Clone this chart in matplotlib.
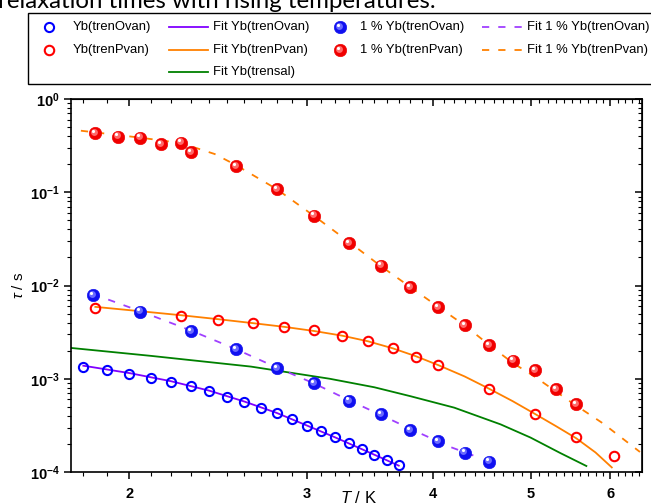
import matplotlib.pyplot as plt
import numpy as np
from matplotlib.ticker import FixedLocator, FuncFormatter, LogLocator, NullFormatter
from matplotlib.transforms import offset_copy
from matplotlib.patches import Rectangle

plt.rcParams['font.family'] = 'Liberation Sans'
plt.rcParams['mathtext.fontset'] = 'custom'
plt.rcParams['mathtext.rm'] = 'Liberation Sans'
plt.rcParams['mathtext.it'] = 'Liberation Sans:italic'
plt.rcParams['mathtext.bf'] = 'Liberation Sans:bold'

# Yb(trenOvan) - open blue circles
T_ovan = [1.8, 1.9, 2.0, 2.1, 2.2, 2.3, 2.4, 2.5, 2.6, 2.7, 2.8, 2.9, 3.0, 3.1, 3.2, 3.3, 3.4, 3.5, 3.6, 3.7]
tau_ovan = [1.35e-3, 1.24e-3, 1.13e-3, 1.03e-3, 9.3e-4, 8.3e-4, 7.4e-4, 6.4e-4, 5.6e-4, 4.86e-4,
            4.26e-4, 3.67e-4, 3.11e-4, 2.73e-4, 2.35e-4, 2.03e-4, 1.75e-4, 1.53e-4, 1.34e-4, 1.19e-4]
# Yb(trenPvan) - open red circles
T_pvan = [1.85, 2.05, 2.25, 2.45, 2.65, 2.85, 3.05, 3.25, 3.45, 3.65, 3.85, 4.05, 4.55, 5.05, 5.55, 6.05]
tau_pvan = [5.78e-3, 5.24e-3, 4.71e-3, 4.27e-3, 3.99e-3, 3.61e-3, 3.33e-3, 2.87e-3, 2.54e-3, 2.12e-3,
            1.72e-3, 1.40e-3, 7.76e-4, 4.16e-4, 2.36e-4, 1.49e-4]
# 1 % Yb(trenOvan) - blue balls
T_1ovan = [1.84, 2.05, 2.3, 2.55, 2.8, 3.05, 3.3, 3.55, 3.8, 4.05, 4.3, 4.55]
tau_1ovan = [7.9e-3, 5.24e-3, 3.25e-3, 2.07e-3, 1.30e-3, 8.9e-4, 5.8e-4, 4.15e-4, 2.82e-4, 2.15e-4, 1.61e-4, 1.29e-4]
# 1 % Yb(trenPvan) - red balls
T_1pvan = [1.85, 1.95, 2.05, 2.15, 2.25, 2.3, 2.55, 2.8, 3.05, 3.3, 3.55, 3.8, 4.05, 4.3, 4.55, 4.8, 5.05, 5.3, 5.55]
tau_1pvan = [0.429, 0.394, 0.385, 0.329, 0.340, 0.268, 0.191, 0.1076, 0.056, 0.0283, 0.0163, 9.57e-3,
             5.88e-3, 3.77e-3, 2.30e-3, 1.56e-3, 1.24e-3, 7.7e-4, 5.36e-4]

# fit curves
fit_ovan_T = [1.8, 2.0, 2.2, 2.4, 2.6, 2.8, 3.0, 3.2, 3.4, 3.55, 3.7]
fit_ovan_tau = [1.38e-3, 1.15e-3, 9.4e-4, 7.45e-4, 5.7e-4, 4.3e-4, 3.15e-4, 2.35e-4, 1.76e-4, 1.43e-4, 1.17e-4]
fit_pvan_T = [1.85, 2.05, 2.25, 2.45, 2.65, 2.85, 3.05, 3.25, 3.45, 3.65, 3.85, 4.05, 4.3, 4.55,
              4.8, 5.05, 5.3, 5.55, 5.8, 6.02]
fit_pvan_tau = [5.9e-3, 5.3e-3, 4.8e-3, 4.35e-3, 3.95e-3, 3.6e-3, 3.25e-3, 2.9e-3, 2.52e-3, 2.12e-3,
                1.74e-3, 1.40e-3, 1.06e-3, 7.8e-4, 5.75e-4, 4.2e-4, 3.1e-4, 2.3e-4, 1.62e-4, 1.12e-4]
fit_sal_T = [1.75, 2.1, 2.64, 3.16, 3.5, 3.8, 4.2, 4.67, 5.0, 5.35, 5.68]
fit_sal_tau = [2.14e-3, 1.76e-3, 1.35e-3, 1.0e-3, 8.1e-4, 6.5e-4, 4.9e-4, 3.24e-4, 2.34e-4, 1.6e-4, 1.16e-4]
fit_1ovan_T = [1.84, 2.05, 2.3, 2.55, 2.8, 3.05, 3.3, 3.55, 3.8, 4.16, 4.42]
fit_1ovan_tau = [8.1e-3, 5.3e-3, 3.3e-3, 2.08e-3, 1.32e-3, 8.9e-4, 5.9e-4, 4.1e-4, 2.9e-4, 1.86e-4, 1.46e-4]
fit_1pvan_T = [1.79, 2.05, 2.25, 2.43, 2.55, 2.8, 3.05, 3.3, 3.55, 3.8, 4.05, 4.3, 4.55, 4.8, 5.05,
               5.5, 5.9, 6.42]
fit_1pvan_tau = [0.457, 0.385, 0.337, 0.257, 0.196, 0.108, 0.0556, 0.0295, 0.0162, 9.6e-3, 5.9e-3,
                 3.75e-3, 2.3e-3, 1.48e-3, 1.05e-3, 5.5e-4, 3.32e-4, 1.64e-4]

x_major = [2, 3, 4, 5, 6]

BLUE = '#0000ff'
RED = '#ff0000'
PURPLE = '#8000ff'
PURPLE2 = '#a040ff'
ORANGE = '#ff8000'
GREEN = '#008000'

fig = plt.figure(figsize=(6.51, 5.03), dpi=100)
ax = fig.add_axes([71/651, 1-472/503, (642-71)/651, (472-99)/503])
ax.set_xscale('log')
ax.set_yscale('log')


def balls(a, x, y, color, light, tr, ms=9.0, z=5):
    a.plot(x, y, 'o', ms=ms, mfc=color, mec=color, mew=0.4, ls='none', transform=tr, zorder=z, clip_on=False)
    t1 = offset_copy(tr, fig=fig, x=-0.8, y=0.9, units='points')
    a.plot(x, y, 'o', ms=ms*0.55, mfc=light, mec='none', ls='none', transform=t1, zorder=z+0.1, clip_on=False)
    t2 = offset_copy(tr, fig=fig, x=-1.4, y=1.7, units='points')
    a.plot(x, y, 'o', ms=ms*0.25, mfc='white', mec='none', ls='none', transform=t2, zorder=z+0.2, clip_on=False)


# fit lines
ax.plot(fit_ovan_T, fit_ovan_tau, color=PURPLE, lw=1.3, zorder=2)
ax.plot(fit_pvan_T, fit_pvan_tau, color=ORANGE, lw=1.3, zorder=2)
ax.plot(fit_sal_T, fit_sal_tau, color=GREEN, lw=1.3, zorder=2)
ax.plot(fit_1ovan_T, fit_1ovan_tau, color=PURPLE2, lw=1.3, dashes=(4, 5), zorder=2)
ax.plot(fit_1pvan_T, fit_1pvan_tau, color=ORANGE, lw=1.3, dashes=(4, 5), zorder=2)

# data
ax.plot(T_ovan, tau_ovan, 'o', ms=6.6, mfc='none', mec=BLUE, mew=1.5, zorder=3)
ax.plot(T_pvan, tau_pvan, 'o', ms=6.8, mfc='none', mec=RED, mew=1.5, zorder=3)
balls(ax, T_1ovan, tau_1ovan, '#1010f0', '#6a6aff', ax.transData)
balls(ax, T_1pvan, tau_1pvan, '#f00000', '#ff6a6a', ax.transData)

ax.set_xlim(1.75, 6.45)
ax.set_ylim(1e-4, 1)

x_minor = [v for v in np.round(np.arange(1.8, 6.45, 0.1), 1) if v not in x_major]
ax.xaxis.set_major_locator(FixedLocator(x_major))
ax.xaxis.set_minor_locator(FixedLocator(x_minor))
ax.xaxis.set_major_formatter(FuncFormatter(lambda v, p: r'$\mathbf{%d}$' % v))
ax.xaxis.set_minor_formatter(NullFormatter())
ax.yaxis.set_major_locator(LogLocator(base=10))
ax.yaxis.set_minor_locator(LogLocator(base=10, subs=np.arange(2, 10)))
ax.yaxis.set_major_formatter(FuncFormatter(lambda v, p: r'$\mathbf{10^{%d}}$' % round(np.log10(v))))
ax.yaxis.set_minor_formatter(NullFormatter())

ax.tick_params(which='major', direction='out', length=5, width=1.1, labelsize=10.5)
ax.tick_params(which='minor', direction='out', length=3, width=0.8)
ax.tick_params(axis='x', which='major', pad=6)
ax.tick_params(axis='y', which='major', pad=3)
for s in ax.spines.values():
    s.set_linewidth(1.2)

top = ax.secondary_xaxis('top')
top.xaxis.set_major_locator(FixedLocator(x_major))
top.xaxis.set_minor_locator(FixedLocator(x_minor))
top.xaxis.set_major_formatter(NullFormatter())
top.xaxis.set_minor_formatter(NullFormatter())
top.tick_params(which='major', direction='in', length=5, width=1.1)
top.tick_params(which='minor', direction='in', length=3, width=0.8)

right = ax.secondary_yaxis('right')
right.yaxis.set_major_locator(LogLocator(base=10))
right.yaxis.set_minor_locator(LogLocator(base=10, subs=np.arange(2, 10)))
right.yaxis.set_major_formatter(NullFormatter())
right.yaxis.set_minor_formatter(NullFormatter())
right.tick_params(which='major', direction='in', length=5, width=1.1)
right.tick_params(which='minor', direction='in', length=3, width=0.8)

ax.set_ylabel(r'$\tau$ / s', fontsize=11)
ax.yaxis.set_label_coords(-0.078, 0.5)
ax.set_xlabel(r'$T$ / K', fontsize=12)
ax.xaxis.set_label_coords(0.503, -0.07)
ax.xaxis.label.set_verticalalignment('center')

# cropped caption at the top
fig.text(-0.003, 1 - 8/503, 'relaxation times with rising temperatures.', fontsize=17.3,
         family='Lato', va='baseline', ha='left')

# legend drawn in pixel coordinates
lg = fig.add_axes([0, 0, 1, 1], zorder=10)
lg.set_xlim(0, 651)
lg.set_ylim(503, 0)
lg.axis('off')
lg.add_patch(Rectangle((28, 13), 640, 71, fc='white', ec='black', lw=1.0))
rows = [27, 50, 72]
fs = 9.4
lg.plot([49], [rows[0]], 'o', ms=6.6, mfc='none', mec=BLUE, mew=1.5)
lg.text(73, rows[0], 'Yb(trenOvan)', fontsize=fs, va='center')
lg.plot([49], [rows[1]], 'o', ms=6.8, mfc='none', mec=RED, mew=1.5)
lg.text(73, rows[1], 'Yb(trenPvan)', fontsize=fs, va='center')
lg.plot([169, 208], [rows[0]]*2, color=PURPLE, lw=1.3)
lg.text(213, rows[0], 'Fit Yb(trenOvan)', fontsize=fs, va='center')
lg.plot([169, 208], [rows[1]]*2, color=ORANGE, lw=1.3)
lg.text(213, rows[1], 'Fit Yb(trenPvan)', fontsize=fs, va='center')
lg.plot([169, 208], [rows[2]]*2, color=GREEN, lw=1.3)
lg.text(213, rows[2], 'Fit Yb(trensal)', fontsize=fs, va='center')
balls(lg, [340], [rows[0]], '#1010f0', '#6a6aff', lg.transData, z=11)
lg.text(360, rows[0], '1 % Yb(trenOvan)', fontsize=fs, va='center')
balls(lg, [340], [rows[1]], '#f00000', '#ff6a6a', lg.transData, z=11)
lg.text(360, rows[1], '1 % Yb(trenPvan)', fontsize=fs, va='center')
lg.plot([482, 523], [rows[0]]*2, color=PURPLE2, lw=1.3, dashes=(4, 5))
lg.text(527, rows[0], 'Fit 1 % Yb(trenOvan)', fontsize=fs, va='center')
lg.plot([482, 523], [rows[1]]*2, color=ORANGE, lw=1.3, dashes=(4, 5))
lg.text(527, rows[1], 'Fit 1 % Yb(trenPvan)', fontsize=fs, va='center')

fig.savefig('out.png', dpi=100)
